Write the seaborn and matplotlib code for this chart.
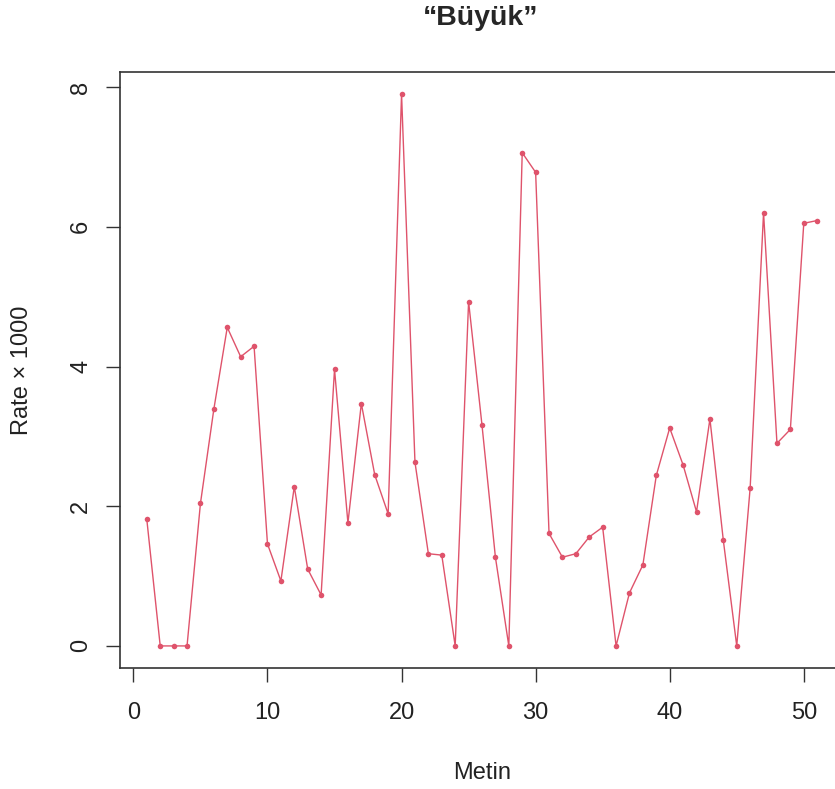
import matplotlib
matplotlib.use("Agg")
import matplotlib.pyplot as plt
import seaborn as sns
import pandas as pd

metin = list(range(1, 52))
rate = [1.81, 0.0, 0.0, 0.0, 2.04, 3.39, 4.56, 4.14, 4.29, 1.46,
        0.93, 2.28, 1.10, 0.73, 3.96, 1.76, 3.47, 2.45, 1.89, 7.90,
        2.63, 1.32, 1.30, 0.0, 4.93, 3.16, 1.27, 0.0, 7.06, 6.78,
        1.61, 1.27, 1.32, 1.56, 1.70, 0.0, 0.76, 1.16, 2.44, 3.12,
        2.59, 1.92, 3.25, 1.51, 0.0, 2.26, 6.20, 2.90, 3.10, 6.05, 6.09]
x_ticks = [0, 10, 20, 30, 40, 50]
y_ticks = [0, 2, 4, 6, 8]

df = pd.DataFrame({"Metin": metin, "Rate": rate})

sns.set_style("white")
plt.rcParams['font.family'] = ['Liberation Sans', 'DejaVu Sans']

fig = plt.figure(figsize=(8.35, 7.89), dpi=100)
ax = fig.add_axes([120/835, 121/789, 724/835, 596/789])

col = "#DF536B"
sns.lineplot(data=df, x="Metin", y="Rate", ax=ax, color=col, linewidth=1.0,
             marker="o", markersize=4, markeredgewidth=0, markerfacecolor=col)

ax.set_xlim(-1, 53)
ax.set_ylim(-0.316, 8.216)
ax.set_xticks(x_ticks)
ax.set_yticks(y_ticks)
ax.set_yticklabels([str(v) for v in y_ticks], rotation=90, va="center")
ax.tick_params(axis="x", direction="out", length=10, width=1, color="#333333",
               labelsize=17, labelcolor="#222222", pad=14.5, bottom=True)
ax.tick_params(axis="y", direction="out", length=10, width=1, color="#333333",
               labelsize=17, labelcolor="#222222", pad=10, left=True)
for s in ax.spines.values():
    s.set_color("#333333")
    s.set_linewidth(1.2)

ax.set_xlabel("Metin", fontsize=17, color="#222222", va="center")
ax.xaxis.set_label_coords(0.5, (16 - 121) / 596)
ax.set_ylabel("Rate × 1000", fontsize=17, color="#222222", va="center")
ax.yaxis.set_label_coords((22 - 120) / 724, 0.5)
fig.text(481 / 835, 1 - 18 / 789, "“Büyük”", ha="center", va="center",
         fontsize=20.5, fontweight="bold")

fig.savefig("out.png", dpi=100)
